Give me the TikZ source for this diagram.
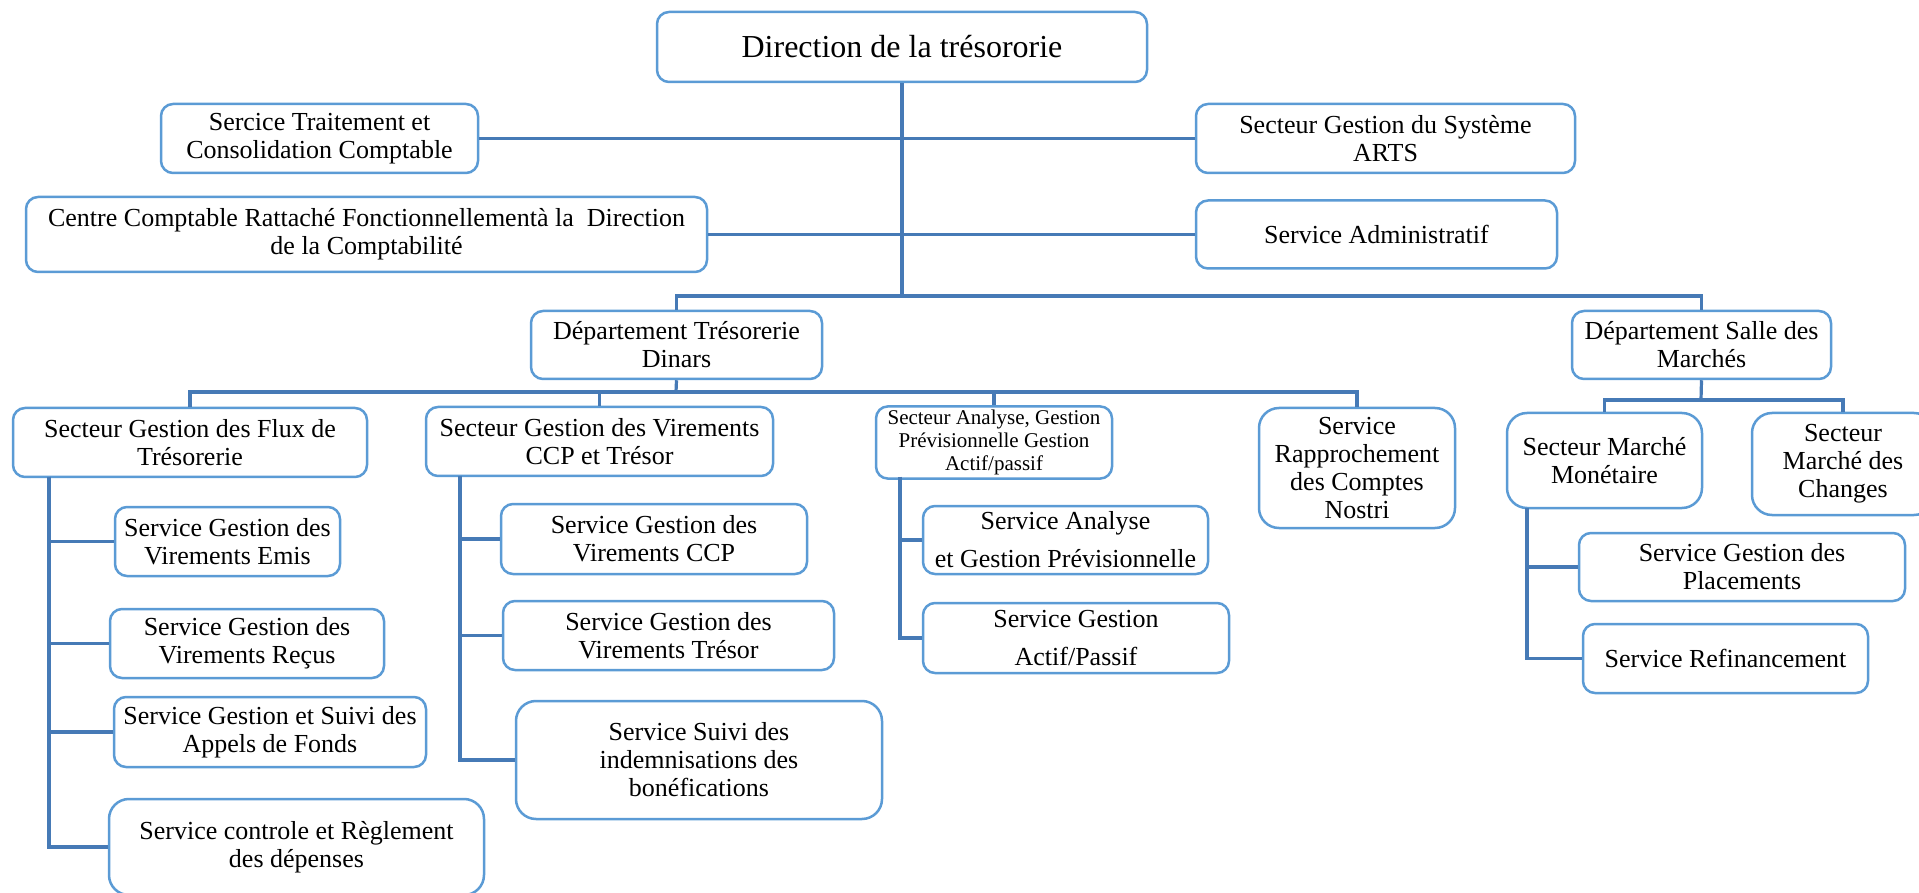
\documentclass[tikz,border=0pt]{standalone}
\usepackage{fontspec}
\setmainfont{Liberation Serif}
\definecolor{boxline}{RGB}{91,155,213}
\definecolor{linkline}{RGB}{70,122,182}
\tikzset{
  unit/.style={draw=boxline, line width=1.25pt, fill=white, rounded corners=6pt,
    align=center, inner sep=2pt,
    font=\fontsize{13}{14}\selectfont},
  tall/.style={rounded corners=10pt},
  roomy/.style={font=\fontsize{13}{19}\selectfont},
  small/.style={font=\fontsize{10.5}{11.3}\selectfont},
  title/.style={font=\fontsize{16}{18}\selectfont},
  link/.style={draw=linkline, line width=1.6pt},
}
\begin{document}
\begin{tikzpicture}[x=0.5pt, y=-0.5pt]
\useasboundingbox (0,0) rectangle (1919,893);
\clip (0,0) rectangle (1919,893);

% top level
\node[unit, title, minimum width=245pt, minimum height=35pt] (dir) at (902,47) {Direction de la trésororie};

% staff units beside the trunk
\node[unit, minimum width=158.5pt, minimum height=34.5pt] (trait) at (319.5,138.5) {Sercice Traitement et\\Consolidation Comptable};
\node[unit, minimum width=340.5pt, minimum height=37.5pt] (centre) at (366.5,234.5) {Centre Comptable Rattaché Fonctionnellementà la\ \ Direction\\de la Comptabilité};
\node[unit, minimum width=189.5pt, minimum height=34.5pt] (arts) at (1385.5,138.5) {Secteur Gestion du Système\\ARTS};
\node[unit, minimum width=180.5pt, minimum height=34pt] (admin) at (1376.5,234.5) {Service Administratif};

% departments
\node[unit, minimum width=145.5pt, minimum height=34pt] (deptTD) at (676.5,345) {Département Trésorerie\\Dinars};
\node[unit, minimum width=129.5pt, minimum height=34pt] (deptSM) at (1701.5,345) {Département Salle des\\Marchés};

% sectors of the Trésorerie Dinars department
\node[unit, minimum width=177pt, minimum height=34.5pt] (flux) at (190,442.5) {Secteur Gestion des Flux de\\Trésorerie};
\node[unit, minimum width=173.5pt, minimum height=34.5pt] (ccp) at (599.5,441.5) {Secteur Gestion des Virements\\CCP et Trésor};
\node[unit, small, minimum width=118pt, minimum height=34.5pt] (analyse) at (994,442.5) {Secteur Analyse, Gestion\\Prévisionnelle Gestion\\Actif/passif};
\node[unit, tall, minimum width=98pt, minimum height=60pt] (rappro) at (1357,468) {Service\\Rapprochement\\des Comptes\\Nostri};

% sectors of the Salle des Marchés department
\node[unit, tall, minimum width=97.5pt, minimum height=47.5pt] (monet) at (1604.5,460.5) {Secteur Marché\\Monétaire};
\node[unit, tall, minimum width=91pt, minimum height=51pt] (changes) at (1843,464) {Secteur\\Marché des\\Changes};

% services under Flux de Trésorerie
\node[unit, minimum width=112.5pt, minimum height=34.5pt] (emis) at (227.5,541.5) {Service Gestion des\\Virements Emis};
\node[unit, minimum width=137pt, minimum height=34.5pt] (recus) at (247,643.5) {Service Gestion des\\Virements Reçus};
\node[unit, minimum width=156pt, minimum height=35pt] (appels) at (270,732) {Service Gestion et Suivi des\\Appels de Fonds};
\node[unit, tall, minimum width=187.5pt, minimum height=48pt] (controle) at (296.5,847) {Service controle et Règlement\\des dépenses};

% services under Virements CCP et Trésor
\node[unit, minimum width=153pt, minimum height=35pt] (vccp) at (654,539) {Service Gestion des\\Virements CCP};
\node[unit, minimum width=165.5pt, minimum height=34.5pt] (vtresor) at (668.5,635.5) {Service Gestion des\\Virements Trésor};
\node[unit, tall, minimum width=183pt, minimum height=59pt] (indemn) at (699,760) {Service Suivi des\\indemnisations des\\bonéfications};

% services under Analyse
\node[unit, roomy, minimum width=142.5pt, minimum height=34pt] (sanalyse) at (1065.5,540) {Service Analyse\\et Gestion Prévisionnelle};
\node[unit, roomy, minimum width=153pt, minimum height=35pt] (actif) at (1076,638) {Service Gestion\\Actif/Passif};

% services under Marché Monétaire
\node[unit, minimum width=163pt, minimum height=34pt] (placements) at (1742,567) {Service Gestion des\\Placements};
\node[unit, minimum width=142.5pt, minimum height=34.5pt] (refin) at (1725.5,658.5) {Service Refinancement};

% junction points of the buses and stems
\coordinate (busTop) at (902,296);
\coordinate (busTD) at (676,392);
\coordinate (busSM) at (1701,400);
\coordinate (fluxStem) at (49,477);
\coordinate (ccpStem) at (460,476);
\coordinate (anaStem) at (900,477);
\coordinate (monStem) at (1527,508);

% connectors
\draw[link] (dir.south) -- (busTop);
\draw[link] (trait.east) -- (arts.west);
\draw[link] (centre.east) -- (admin.west);
\draw[link] (deptTD.north) |- (busTop);
\draw[link] (deptSM.north) |- (busTop);

\draw[link] (deptTD.south) -- (busTD);
\draw[link] (flux.north) |- (busTD);
\draw[link] (rappro.north) |- (busTD);
\draw[link] (ccp.north) -- (ccp.north |- busTD);
\draw[link] (analyse.north) -- (analyse.north |- busTD);

\draw[link] (deptSM.south) -- (busSM);
\draw[link] (monet.north) |- (busSM);
\draw[link] (changes.north) |- (busSM);

\draw[link] (fluxStem) |- (emis.west);
\draw[link] (fluxStem) |- (recus.west);
\draw[link] (fluxStem) |- (appels.west);
\draw[link] (fluxStem) |- (controle.west);

\draw[link] (ccpStem) |- (vccp.west);
\draw[link] (ccpStem) |- (vtresor.west);
\draw[link] (ccpStem) |- (indemn.west);

\draw[link] (anaStem) |- (sanalyse.west);
\draw[link] (anaStem) |- (actif.west);

\draw[link] (monStem) |- (placements.west);
\draw[link] (monStem) |- (refin.west);
\end{tikzpicture}
\end{document}
